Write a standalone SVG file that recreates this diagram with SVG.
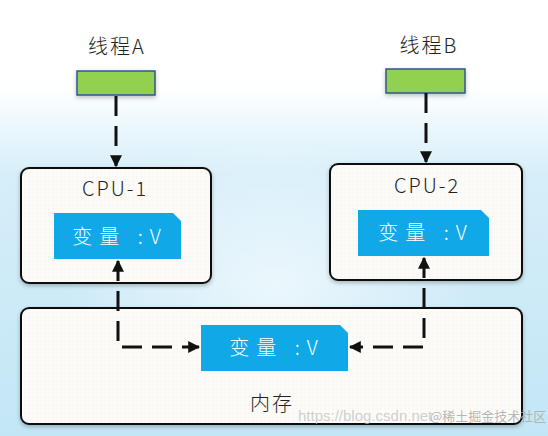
<svg xmlns="http://www.w3.org/2000/svg" width="548" height="436" viewBox="0 0 548 436">
<defs>
<linearGradient id="bg" x1="0" y1="0" x2="0" y2="1">
<stop offset="0" stop-color="#ffffff"/>
<stop offset="0.2" stop-color="#ffffff"/>
<stop offset="0.4" stop-color="#d6eef9"/>
<stop offset="1" stop-color="#c3e6f6"/>
</linearGradient>
<radialGradient id="glow" cx="0.5" cy="0.55" r="0.5">
<stop offset="0" stop-color="#ffffff" stop-opacity="0.6"/>
<stop offset="1" stop-color="#ffffff" stop-opacity="0"/>
</radialGradient>
<pattern id="dots" width="4" height="4" patternUnits="userSpaceOnUse">
<rect width="4" height="4" fill="#fcfbf8"/>
<circle cx="1" cy="1" r="0.4" fill="#e6e0dc"/>
</pattern>
<filter id="sh" x="-20%" y="-20%" width="140%" height="150%">
<feDropShadow dx="0" dy="2" stdDeviation="2" flood-color="#000" flood-opacity="0.25"/>
</filter>
<marker id="ah" viewBox="0 0 10 10" refX="9" refY="5" markerWidth="4" markerHeight="4" orient="auto-start-reverse" markerUnits="strokeWidth">
<path d="M0,0 L10,5 L0,10 Z" fill="#111"/>
</marker>
<style>
.lbl{font-family:"Noto Sans CJK SC","Liberation Sans",sans-serif;font-size:20px;font-weight:300;fill:#222;text-anchor:middle;letter-spacing:2px}
.vt{font-family:"Noto Sans CJK SC","Liberation Sans",sans-serif;font-size:20px;font-weight:300;fill:#ffffff;text-anchor:middle;letter-spacing:7px}
.box{fill:url(#dots);stroke:#111;stroke-width:2}
.thr{fill:#92d050;stroke:#2f5597;stroke-width:1.5}
.var{fill:#11a8e8}
.con{fill:none;stroke:#111;stroke-width:3;stroke-dasharray:20 10}
</style>
</defs>
<rect width="548" height="436" fill="url(#bg)"/>
<rect x="60" y="120" width="430" height="300" fill="url(#glow)"/>

<g id="threadA">
<text class="lbl" x="117" y="54">线程A</text>
<rect class="thr" x="77" y="71" width="78" height="24" filter="url(#sh)"/>
</g>
<g id="threadB">
<text class="lbl" x="429" y="53">线程B</text>
<rect class="thr" x="386" y="69" width="79" height="24" filter="url(#sh)"/>
</g>

<g id="cpu1">
<rect class="box" x="21" y="168" width="190" height="115" rx="8" filter="url(#sh)"/>
<text class="lbl" x="115" y="196">CPU-1</text>
<path class="var" d="M54,213 H173 L181,221 V259 H54 Z"/>
<text class="vt" x="120" y="244">变量 :V</text>
</g>

<g id="cpu2">
<rect class="box" x="330" y="164" width="192" height="116" rx="8" filter="url(#sh)"/>
<text class="lbl" x="427" y="193">CPU-2</text>
<path class="var" d="M358,210 H481 L489,218 V256 H358 Z"/>
<text class="vt" x="426" y="240">变量 :V</text>
</g>

<g id="memory">
<rect class="box" x="21" y="308" width="501" height="116" rx="8" filter="url(#sh)"/>
<path class="var" d="M201,325 H340 L348,333 V371 H201 Z"/>
<text class="vt" x="277" y="355">变量 :V</text>
<text class="lbl" x="272" y="411">内存</text>
</g>

<g id="connectors">
<path class="con" d="M116,96 V166" marker-end="url(#ah)"/>
<path class="con" d="M426,93 V162" marker-end="url(#ah)"/>
<path class="con" d="M118,261 V347 H199" marker-start="url(#ah)" marker-end="url(#ah)"/>
<path class="con" d="M424,258 V347 H350" marker-start="url(#ah)" marker-end="url(#ah)"/>
</g>

<text x="298" y="421" font-family="Liberation Sans, sans-serif" font-size="15" fill="#bbbbbb" fill-opacity="0.7">https://blog.csdn.net</text>
<text x="430" y="421" font-family="Noto Sans CJK SC, sans-serif" font-size="13" fill="#aaaaaa" fill-opacity="0.85">@稀土掘金技术社区</text>
</svg>
